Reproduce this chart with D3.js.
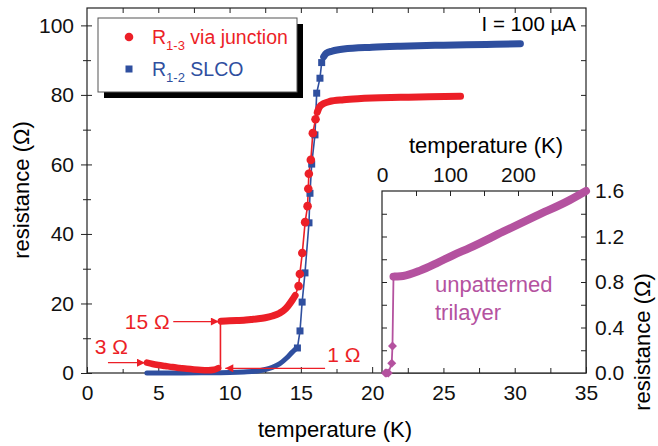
<!DOCTYPE html>
<html>
<head>
<meta charset="utf-8">
<script src="https://cdnjs.cloudflare.com/ajax/libs/d3/7.8.5/d3.min.js"></script>
<style>
  body { margin: 0; background: #fff; }
  svg { font-family: "Liberation Sans", Arial, sans-serif; }
  .tick text { font-size: 21px; fill: #111; }
  .tick line { stroke: #222; }
  .domain { display: none; }
</style>
</head>
<body>
<svg id="chart" width="658" height="446"></svg>
<script>
// R_1-3 via junction (temperature K, resistance Ohm)
var redLow = [[4.2, 3.0], [4.6, 2.6], [5, 2.3], [5.5, 2.0], [6, 1.7], [6.5, 1.45], [7, 1.2], [7.5, 1.0],
  [8, 0.85], [8.5, 0.8], [8.9, 0.95], [9.2, 1.4]];
var redMid = [[9.4, 14.9], [10, 15.0], [10.5, 15.1], [11, 15.2], [11.5, 15.4], [12, 15.6], [12.5, 15.9],
  [13, 16.4], [13.5, 17.2], [13.8, 18], [14.1, 19.3], [14.4, 21], [14.6, 22.3]];
var redMarks = [[14.84, 25], [14.93, 28.5], [15.1, 34.5], [15.3, 43.4], [15.47, 48], [15.52, 53],
  [15.56, 57.3], [15.7, 61.3], [15.84, 69], [16.03, 73]];
var redHigh = [[16.15, 75], [16.3, 76.5], [16.6, 77.5], [17, 78.1], [18, 78.6], [19, 78.9], [20, 79.1],
  [22, 79.3], [24, 79.5], [26.2, 79.6]];
var redJump = [[9.36, 1.5], [9.36, 14.9]];

// R_1-2 SLCO
var blueLow = [[4.2, 0], [6, 0], [8, 0.05], [10, 0.15], [11, 0.3], [12, 0.6], [12.5, 1.0], [13, 1.6],
  [13.5, 2.6], [14, 4.3], [14.4, 6.0], [14.6, 6.8]];
var blueMarks = [[14.76, 7.2], [14.94, 12.1], [15.09, 20.4], [15.29, 28.8], [15.57, 43.2], [15.64, 51.7],
  [15.76, 60.1], [15.99, 68.5], [16.11, 80.5], [16.34, 84.8], [16.46, 89.3]];
var blueHigh = [[16.6, 91], [16.8, 92], [17.2, 92.6], [18, 93.2], [20, 93.7], [22, 94], [25, 94.3],
  [28, 94.5], [30.4, 94.7]];

// inset: unpatterned trilayer (temperature K, resistance Ohm)
var trilayerMarks = [[5, 0], [7, 0], [9.3, 0], [14.3, 0.085], [15.4, 0.237]];
var trilayerCurve = [[16.9, 0.847], [20, 0.848], [31, 0.853], [56, 0.90], [80, 0.964], [105, 1.037],
  [129, 1.10], [178, 1.242], [227.5, 1.383], [276, 1.52], [300, 1.6]];

var xTicks = [0, 5, 10, 15, 20, 25, 30, 35];
var yTicks = [0, 20, 40, 60, 80, 100];
var insetXTicks = [0, 100, 200];
var insetYTicks = [0.0, 0.4, 0.8, 1.2, 1.6];

var red = "#ec1f27", blue = "#2f4f9f", pink = "#b4529f";

var svg = d3.select("#chart");

var x = d3.scaleLinear().domain([0, 35]).range([87, 586]);
var y = d3.scaleLinear().domain([0, 105]).range([373, 8]);
var xi = d3.scaleLinear().domain([0, 300]).range([382, 586]);
var yi = d3.scaleLinear().domain([0, 1.6]).range([373, 191]);

var defs = svg.append("defs");
defs.append("marker")
  .attr("id", "arrowRed")
  .attr("viewBox", "0 0 10 10")
  .attr("refX", 10).attr("refY", 5)
  .attr("markerWidth", 12).attr("markerHeight", 8)
  .attr("markerUnits", "userSpaceOnUse")
  .attr("orient", "auto")
  .append("path")
  .attr("d", "M0,0 L10,5 L0,10 z")
  .attr("fill", red);

// main frame
svg.append("rect")
  .attr("x", x(0)).attr("y", y(105))
  .attr("width", x(35) - x(0)).attr("height", y(0) - y(105))
  .attr("fill", "none").attr("stroke", "#222").attr("stroke-width", 1.2);

// bottom axis (inward ticks)
svg.append("g")
  .attr("transform", "translate(0," + y(0) + ")")
  .call(d3.axisBottom(x).tickValues(xTicks).tickSize(-6).tickPadding(12))
  .call(function(g) { g.selectAll(".tick text").attr("dy", "0.71em"); });
svg.append("g")
  .attr("transform", "translate(0," + y(0) + ")")
  .call(d3.axisBottom(x).tickValues(d3.range(2.5, 35, 5)).tickSize(-4).tickFormat(""));

// top axis, ticks only
svg.append("g")
  .attr("transform", "translate(0," + y(105) + ")")
  .call(d3.axisTop(x).tickValues(d3.range(2.5, 35, 2.5)).tickSize(-5).tickFormat(""));

// left axis, ticks crossing
svg.append("g")
  .attr("transform", "translate(" + x(0) + ",0)")
  .call(d3.axisLeft(y).tickValues(yTicks).tickSize(6).tickPadding(7))
  .call(function(g) { g.selectAll(".tick line").attr("x1", 5); });
svg.append("g")
  .attr("transform", "translate(" + x(0) + ",0)")
  .call(d3.axisLeft(y).tickValues(d3.range(10, 105, 20)).tickSize(4).tickFormat(""))
  .call(function(g) { g.selectAll(".tick line").attr("x1", 4); });

// right axis, inward ticks
svg.append("g")
  .attr("transform", "translate(" + x(35) + ",0)")
  .call(d3.axisRight(y).tickValues(d3.range(60, 105, 10)).tickSize(-5).tickFormat(""));

svg.append("text")
  .attr("transform", "translate(" + 29 + "," + 190 + ") rotate(-90)")
  .attr("text-anchor", "middle")
  .attr("font-size", 22)
  .text("resistance (\u03A9)");

svg.append("text")
  .attr("x", 335).attr("y", 437)
  .attr("text-anchor", "middle")
  .attr("font-size", 22)
  .text("temperature (K)");

svg.append("text")
  .attr("x", 576).attr("y", 31)
  .attr("text-anchor", "end")
  .attr("font-size", 20.5)
  .text("I = 100 \u00B5A");

var line = d3.line()
  .x(function(d) { return x(d[0]); })
  .y(function(d) { return y(d[1]); });

// thin connecting lines
svg.append("path")
  .attr("d", line(blueLow.concat(blueMarks, blueHigh)))
  .attr("fill", "none").attr("stroke", blue).attr("stroke-width", 1.6);
svg.append("path")
  .attr("d", line(redLow.concat(redJump, redMid, redMarks, redHigh)))
  .attr("fill", "none").attr("stroke", red).attr("stroke-width", 1.6);

// dense parts drawn as thick strokes
function thick(data, color, w) {
  svg.append("path")
    .attr("d", line.curve(d3.curveMonotoneX)(data))
    .attr("fill", "none").attr("stroke", color)
    .attr("stroke-width", w).attr("stroke-linecap", "round").attr("stroke-linejoin", "round");
  line.curve(d3.curveLinear);
}
thick(blueLow, blue, 5);
thick(blueHigh, blue, 7);
thick(redLow, red, 6.5);
thick(redMid, red, 7);
thick(redHigh, red, 7);

svg.selectAll(".bmark")
  .data(blueMarks)
  .enter()
    .append("rect")
    .attr("class", "bmark")
    .attr("x", function(d) { return x(d[0]) - 3.5; })
    .attr("y", function(d) { return y(d[1]) - 3.5; })
    .attr("width", 7).attr("height", 7)
    .attr("fill", blue);

svg.selectAll(".rmark")
  .data(redMarks)
  .enter()
    .append("circle")
    .attr("class", "rmark")
    .attr("cx", function(d) { return x(d[0]); })
    .attr("cy", function(d) { return y(d[1]); })
    .attr("r", 4.3)
    .attr("fill", red);

// annotations
var notes = [
  {label: "15 \u03A9", tx: 5.8, ty: 12.7, anchor: "end", from: [6.05, 14.8], to: [9.25, 14.8]},
  {label: "3 \u03A9", tx: 0.55, ty: 5.5, anchor: "start", from: [1.47, 2.96], to: [4.07, 2.96]},
  {label: "1 \u03A9", tx: 16.85, ty: 3.2, anchor: "start", from: [16.7, 1.35], to: [9.7, 1.35]}
];
notes.forEach(function(n) {
  svg.append("line")
    .attr("x1", x(n.from[0])).attr("y1", y(n.from[1]))
    .attr("x2", x(n.to[0])).attr("y2", y(n.to[1]))
    .attr("stroke", red).attr("stroke-width", 1.2)
    .attr("marker-end", "url(#arrowRed)");
  svg.append("text")
    .attr("x", x(n.tx)).attr("y", y(n.ty))
    .attr("text-anchor", n.anchor)
    .attr("font-size", 21)
    .attr("fill", red)
    .text(n.label);
});

// legend
var lg = svg.append("g");
lg.append("rect").attr("x", 104).attr("y", 24).attr("width", 199).attr("height", 74).attr("fill", "#000");
lg.append("rect").attr("x", 98).attr("y", 18).attr("width", 199).attr("height", 74)
  .attr("fill", "#fff").attr("stroke", "#555").attr("stroke-width", 1);
lg.append("circle").attr("cx", 129).attr("cy", 37).attr("r", 4.3).attr("fill", red);
lg.append("rect").attr("x", 125.5).attr("y", 65.5).attr("width", 7).attr("height", 7).attr("fill", blue);
var legendRows = [
  {sub: "1-3", rest: " via junction", color: red, yb: 44},
  {sub: "1-2", rest: " SLCO", color: blue, yb: 76}
];
legendRows.forEach(function(r) {
  var t = lg.append("text").attr("x", 152).attr("y", r.yb).attr("font-size", 19.5).attr("fill", r.color);
  t.append("tspan").text("R");
  t.append("tspan").attr("font-size", 13).attr("dy", 6).text(r.sub);
  t.append("tspan").attr("dy", -6).text(r.rest);
});

// inset
var ins = svg.append("g");
ins.append("rect")
  .attr("x", xi(0)).attr("y", yi(1.6))
  .attr("width", xi(300) - xi(0)).attr("height", yi(0) - yi(1.6))
  .attr("fill", "#fff").attr("stroke", "#222").attr("stroke-width", 1.2);

ins.append("g")
  .attr("transform", "translate(0," + yi(1.6) + ")")
  .call(d3.axisTop(xi).tickValues(insetXTicks).tickSize(0).tickPadding(9));
ins.append("g")
  .attr("transform", "translate(0," + yi(1.6) + ")")
  .call(d3.axisTop(xi).tickValues(d3.range(50, 300, 50)).tickSize(-5).tickFormat(""));
ins.append("g")
  .attr("transform", "translate(" + xi(300) + ",0)")
  .call(d3.axisRight(yi).tickValues(insetYTicks).tickSize(0).tickPadding(9).tickFormat(d3.format(".1f")));
ins.append("g")
  .attr("transform", "translate(" + xi(300) + ",0)")
  .call(d3.axisRight(yi).tickValues(d3.range(0.2, 1.6, 0.2)).tickSize(-5).tickFormat(""));
ins.append("g")
  .attr("transform", "translate(" + xi(0) + ",0)")
  .call(d3.axisLeft(yi).tickValues(d3.range(0.2, 1.6, 0.2)).tickSize(-5).tickFormat(""));
// main bottom ticks along the inset
ins.append("g")
  .attr("transform", "translate(0," + y(0) + ")")
  .call(d3.axisBottom(x).tickValues([22.5, 25, 27.5, 30, 32.5]).tickSize(-5).tickFormat(""));

ins.append("text")
  .attr("x", 486).attr("y", 153)
  .attr("text-anchor", "middle")
  .attr("font-size", 22)
  .text("temperature (K)");
ins.append("text")
  .attr("transform", "translate(" + 650 + "," + 342 + ") rotate(-90)")
  .attr("text-anchor", "middle")
  .attr("font-size", 22)
  .text("resistance (\u03A9)");

var lineI = d3.line()
  .x(function(d) { return xi(d[0]); })
  .y(function(d) { return yi(d[1]); });

ins.append("path")
  .attr("d", lineI(trilayerMarks.concat(trilayerCurve)))
  .attr("fill", "none").attr("stroke", pink).attr("stroke-width", 1.8);
ins.append("path")
  .attr("d", lineI.curve(d3.curveMonotoneX)(trilayerCurve))
  .attr("fill", "none").attr("stroke", pink)
  .attr("stroke-width", 8).attr("stroke-linecap", "round");
ins.selectAll(".dmark")
  .data(trilayerMarks)
  .enter()
    .append("path")
    .attr("class", "dmark")
    .attr("transform", function(d) { return "translate(" + xi(d[0]) + "," + yi(d[1]) + ")"; })
    .attr("d", "M0,-4.5 L4.5,0 L0,4.5 L-4.5,0 z")
    .attr("fill", pink);

ins.append("text")
  .attr("x", 435).attr("y", 292)
  .attr("font-size", 22)
  .attr("fill", pink)
  .text("unpatterned");
ins.append("text")
  .attr("x", 435).attr("y", 320)
  .attr("font-size", 22)
  .attr("fill", pink)
  .text("trilayer");
</script>
</body>
</html>
